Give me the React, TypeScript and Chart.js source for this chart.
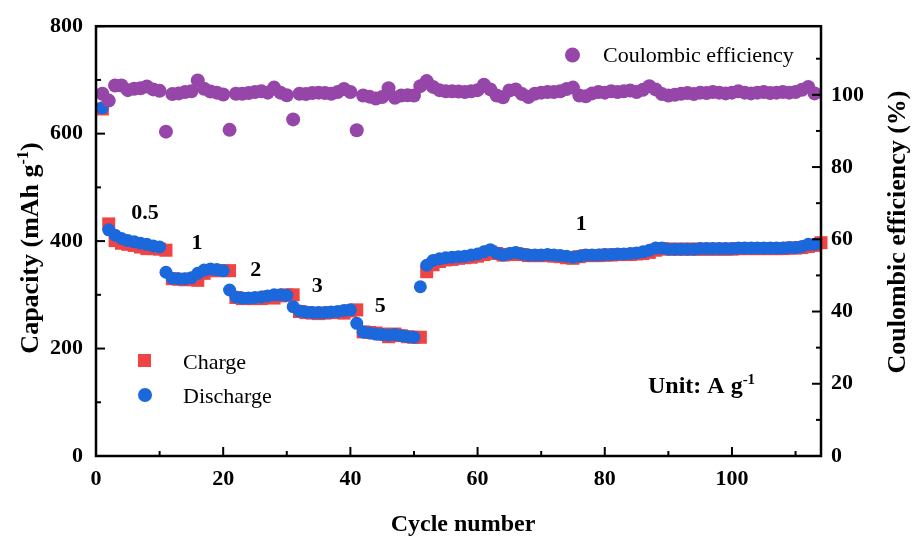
import React, { useEffect, useRef } from "react";
import { Chart, registerables } from "chart.js";

Chart.register(...registerables);

const FONT = '"Liberation Serif", "Times New Roman", serif';

const RED = "#f04343";
const BLUE = "#1b68dc";
const PURPLE = "#9645a8";

// Discharge capacity (mAh g-1), cycles 1..113
const discharge = [
  648, 421, 411, 405, 401, 399, 396, 394, 391, 389,
  342, 331, 330, 330, 332, 340, 346, 348, 347, 345,
  309, 296, 294, 294, 295, 296, 298, 300, 300, 299,
  278, 270, 268, 267, 267, 267, 268, 269, 271, 272,
  247, 231, 229, 227, 226, 225, 226, 224, 222, 221,
  315, 355, 364, 367, 369, 370, 371, 372, 374, 376,
  380, 384, 378, 374, 377, 379, 376, 374, 374, 374,
  375, 374, 373, 372, 370, 372, 374, 374, 374, 375,
  375, 376, 376, 377, 378, 380, 383, 387, 387, 385,
  385, 385, 385, 385, 386, 386, 386, 386, 386, 386,
  387, 387, 387, 387, 387, 387, 387, 387, 388, 388,
  390, 394, 394,
];

// Charge capacity (mAh g-1), cycles 1..114
const charge = [
  646, 432, 401, 396, 394, 392, 389, 386, 386, 385,
  383, 330, 329, 328, 329, 327, 340, 345, 345, 345,
  345, 295, 293, 293, 293, 293, 296, 294, 298, 300,
  300, 269, 267, 266, 265, 266, 267, 267, 266, 270,
  272, 231, 230, 229, 227, 222, 227, 224, 222, 221,
  221, 343, 356, 362, 365, 366, 368, 369, 370, 372,
  375, 380, 377, 374, 375, 377, 375, 373, 373, 373,
  373, 372, 371, 369, 368, 371, 373, 373, 373, 374,
  374, 375, 375, 375, 376, 377, 379, 383, 386, 385,
  385, 385, 385, 385, 385, 385, 385, 385, 385, 385,
  386, 386, 386, 386, 386, 386, 386, 386, 387, 387,
  388, 390, 392, 397,
];

// Coulombic efficiency (%), cycles 1..113
const efficiency = [
  100.3, 98.4, 102.6, 102.6, 101.3, 101.7, 101.8, 102.3, 101.5, 101.1,
  89.8, 100.2, 100.4, 100.8, 101.0, 104.0, 101.7, 100.9, 100.6, 100.1,
  90.3, 100.3, 100.3, 100.5, 100.8, 101.0, 100.6, 102.0, 100.6, 99.9,
  93.2, 100.3, 100.2, 100.5, 100.6, 100.5, 100.3, 100.8, 101.6, 100.8,
  90.2, 99.8, 99.5, 99.0, 99.4, 101.8, 99.2, 99.8, 99.9, 99.8,
  102.4, 103.8, 102.2, 101.3, 101.0, 101.0, 100.9, 100.8, 101.0, 101.3,
  102.8, 101.5, 99.8, 99.3, 101.2, 101.5, 100.2, 99.4, 100.3, 100.6,
  100.8, 100.8, 101.0, 101.6, 102.0, 99.8, 99.6, 100.4, 100.8, 100.6,
  101.0, 100.8, 101.0, 101.2, 100.8, 101.4, 102.4, 101.5, 100.2, 99.8,
  100.0, 100.3, 100.5, 100.2, 100.6, 100.5, 100.8, 100.6, 100.4, 100.6,
  101.0, 100.6, 100.4, 100.6, 100.8, 100.5, 100.6, 100.8, 100.6, 100.8,
  101.4, 102.2, 100.4,
];

// Axis tick values
const cycleMajor = [0, 20, 40, 60, 80, 100];
const cycleMinor = [10, 30, 50, 70, 90, 110];
const capMajor = [0, 200, 400, 600, 800];
const capMinor = [100, 300, 500, 700];
const ceMajor = [0, 20, 40, 60, 80, 100];
const ceMinor = [10, 30, 50, 70, 90, 110];

// Current-density labels (A g-1) placed at (cycle, capacity)
const rateText = ["0.5", "1", "2", "3", "5", "1"];
const rateCycle = [7.7, 15.9, 25.1, 34.8, 44.7, 76.3];
const rateCapacity = [451, 396, 346, 316, 279, 432];

const toPoints = (vals: number[]) => vals.map((v, i) => ({ x: i + 1, y: v }));

type Part = [string, boolean];

function drawParts(
  ctx: CanvasRenderingContext2D,
  parts: Part[],
  x: number,
  y: number,
  size: number,
  weight: string,
  align: "left" | "center"
) {
  const supSize = size * 0.62;
  const widths = parts.map(([t, sup]) => {
    ctx.font = `${weight} ${sup ? supSize : size}px ${FONT}`;
    return ctx.measureText(t).width;
  });
  const total = widths.reduce((a, b) => a + b, 0);
  let cx = align === "center" ? x - total / 2 : x;
  ctx.textAlign = "left";
  parts.forEach(([t, sup], i) => {
    ctx.font = `${weight} ${sup ? supSize : size}px ${FONT}`;
    ctx.fillText(t, cx, sup ? y - size * 0.38 : y);
    cx += widths[i];
  });
}

const decorPlugin = {
  id: "decor",
  afterDatasetsDraw(chart: any) {
    const { ctx, chartArea: a, scales } = chart;
    const xs = scales.x;
    const ys = scales.y;
    const y1 = scales.y1;
    ctx.save();
    ctx.strokeStyle = "#000";
    ctx.fillStyle = "#000";

    // frame
    ctx.lineWidth = 2.5;
    ctx.strokeRect(a.left, a.top, a.right - a.left, a.bottom - a.top);

    // inward ticks
    ctx.lineWidth = 2;
    const seg = (x0: number, yA: number, x1: number, yB: number) => {
      ctx.beginPath();
      ctx.moveTo(x0, yA);
      ctx.lineTo(x1, yB);
      ctx.stroke();
    };
    cycleMajor.forEach((v) => {
      const p = xs.getPixelForValue(v);
      seg(p, a.bottom, p, a.bottom - 9);
    });
    cycleMinor.forEach((v) => {
      const p = xs.getPixelForValue(v);
      seg(p, a.bottom, p, a.bottom - 5);
    });
    capMajor.forEach((v) => {
      const p = ys.getPixelForValue(v);
      seg(a.left, p, a.left + 9, p);
    });
    capMinor.forEach((v) => {
      const p = ys.getPixelForValue(v);
      seg(a.left, p, a.left + 5, p);
    });
    ceMajor.forEach((v) => {
      const p = y1.getPixelForValue(v);
      seg(a.right, p, a.right - 9, p);
    });
    ceMinor.forEach((v) => {
      const p = y1.getPixelForValue(v);
      seg(a.right, p, a.right - 5, p);
    });

    // current-density labels
    ctx.textBaseline = "middle";
    ctx.textAlign = "center";
    ctx.font = `bold 22px ${FONT}`;
    rateText.forEach((t, i) => {
      ctx.fillText(t, xs.getPixelForValue(rateCycle[i]), ys.getPixelForValue(rateCapacity[i]));
    });

    // legends
    ctx.textBaseline = "alphabetic";
    ctx.fillStyle = PURPLE;
    ctx.beginPath();
    ctx.arc(572.5, 55, 7.5, 0, Math.PI * 2);
    ctx.fill();
    ctx.fillStyle = RED;
    ctx.fillRect(138, 354, 13, 13);
    ctx.fillStyle = BLUE;
    ctx.beginPath();
    ctx.arc(145, 395, 7, 0, Math.PI * 2);
    ctx.fill();
    ctx.fillStyle = "#000";
    ctx.textAlign = "left";
    ctx.font = `22px ${FONT}`;
    ctx.fillText("Coulombic efficiency", 603, 62);
    ctx.fillText("Charge", 183, 369);
    ctx.fillText("Discharge", 183, 403);

    drawParts(ctx, [["Unit: A g", false], ["-1", true]], 648, 393, 24, "bold", "left");

    // axis titles
    ctx.font = `bold 24px ${FONT}`;
    ctx.textAlign = "center";
    ctx.fillText("Cycle number", 463, 531);

    ctx.save();
    ctx.translate(38, 248);
    ctx.rotate(-Math.PI / 2);
    drawParts(ctx, [["Capacity (mAh g", false], ["-1", true], [")", false]], 0, 0, 26, "bold", "center");
    ctx.restore();

    ctx.save();
    ctx.translate(905, 232);
    ctx.rotate(-Math.PI / 2);
    drawParts(ctx, [["Coulombic efficiency (%)", false]], 0, 0, 26, "bold", "center");
    ctx.restore();

    ctx.restore();
  },
};

export default function App() {
  const canvasRef = useRef<HTMLCanvasElement | null>(null);

  useEffect(() => {
    document.body.style.margin = "0";
    const canvas = canvasRef.current;
    if (!canvas) return;
    const tickFont = { family: FONT, size: 22, weight: "bold" as const };

    const chart = new Chart(canvas, {
      type: "scatter",
      data: {
        datasets: [
          {
            label: "Coulombic efficiency",
            data: toPoints(efficiency),
            yAxisID: "y1",
            pointStyle: "circle",
            pointRadius: 7,
            pointBackgroundColor: PURPLE,
            pointBorderWidth: 0,
            borderWidth: 0,
            showLine: false,
          },
          {
            label: "Discharge",
            data: toPoints(discharge),
            yAxisID: "y",
            pointStyle: "circle",
            pointRadius: 6.5,
            pointBackgroundColor: BLUE,
            pointBorderWidth: 0,
            borderWidth: 0,
            showLine: false,
          },
          {
            label: "Charge",
            data: toPoints(charge),
            yAxisID: "y",
            pointStyle: "rect",
            pointRadius: 9.2,
            pointBackgroundColor: RED,
            pointBorderWidth: 0,
            borderWidth: 0,
            showLine: false,
          },
        ],
      },
      options: {
        responsive: false,
        animation: false,
        devicePixelRatio: 1,
        clip: false,
        layout: { padding: { top: 25, left: 0, right: 0, bottom: 0 } },
        plugins: {
          legend: { display: false },
          tooltip: { enabled: false },
        },
        scales: {
          x: {
            type: "linear",
            position: "bottom",
            min: 0,
            max: 114,
            grid: { display: false, drawTicks: false },
            border: { display: false },
            ticks: {
              stepSize: 20,
              includeBounds: false,
              padding: 10,
              color: "#000",
              font: tickFont,
              callback: (v: any) => (Number(v) % 20 === 0 && Number(v) <= 100 ? String(v) : ""),
            },
            afterFit: (s: any) => {
              s.height = 86;
            },
          },
          y: {
            type: "linear",
            position: "left",
            min: 0,
            max: 800,
            grid: { display: false, drawTicks: false },
            border: { display: false },
            ticks: {
              stepSize: 200,
              padding: 13,
              color: "#000",
              font: tickFont,
            },
            afterFit: (s: any) => {
              s.width = 96;
            },
          },
          y1: {
            type: "linear",
            position: "right",
            min: 0,
            max: 119,
            grid: { display: false, drawTicks: false },
            border: { display: false },
            ticks: {
              stepSize: 20,
              includeBounds: false,
              padding: 10,
              color: "#000",
              font: tickFont,
              callback: (v: any) => (Number(v) <= 100 && Number(v) % 20 === 0 ? String(v) : ""),
            },
            afterFit: (s: any) => {
              s.width = 92;
            },
          },
        },
      },
      plugins: [decorPlugin],
    } as any);

    return () => chart.destroy();
  }, []);

  return (
    <div style={{ position: "absolute", left: 0, top: 0, width: 913, height: 542, background: "#fff" }}>
      <canvas ref={canvasRef} width={913} height={542} />
    </div>
  );
}
